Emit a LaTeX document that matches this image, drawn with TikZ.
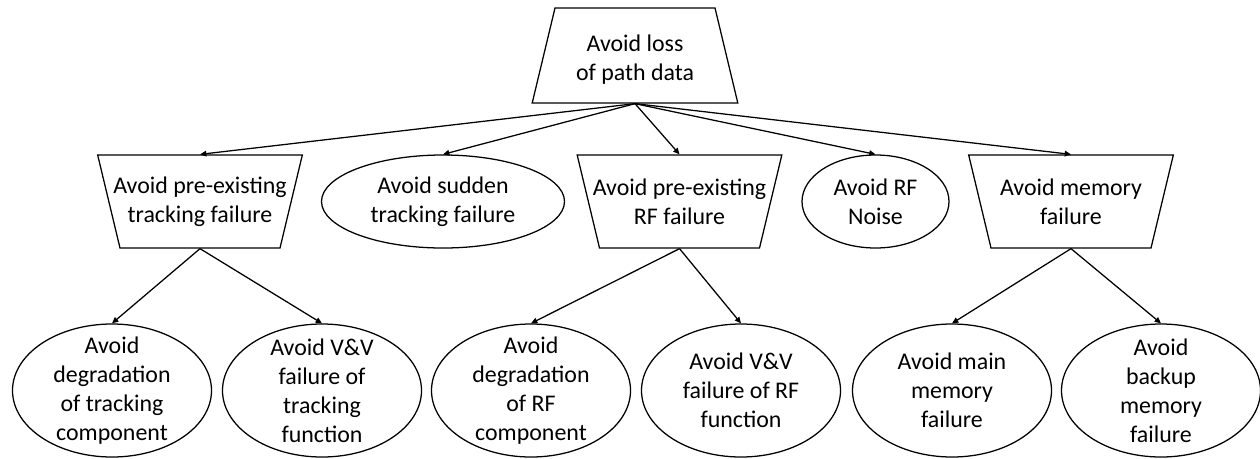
\documentclass[tikz,border=0pt]{standalone}
\usepackage{fontspec}
\setmainfont{Carlito}
\usetikzlibrary{shapes.geometric,arrows.meta}

\begin{document}
\begin{tikzpicture}[
  line width=0.9pt,
  txt/.style={font=\fontsize{17}{20.6}\selectfont, align=center},
  goal/.style={trapezium, draw, trapezium angle=76.5, inner sep=0pt,
    text width=4cm, text height=1.1875cm, text depth=1.1875cm},
  subgoal/.style={goal, shape border rotate=180, text height=1.1625cm, text depth=1.1625cm},
  oval/.style={ellipse, draw, inner sep=0pt, minimum height=2.325cm},
  leaf/.style={ellipse, draw, inner sep=0pt, minimum width=4.975cm, minimum height=3.325cm},
  link/.style={-{Triangle[length=4.5pt,width=4pt]}}
]
\useasboundingbox (0,0) rectangle (31.5,-11.45);

% top goal
\node [goal, label={[txt, yshift=-0.1cm]center:{Avoid loss\\of path data}}] (top) at (15.875,-1.3875) {};

% second row
\node [subgoal, label={[txt]center:{Avoid pre-existing\\tracking failure}}] (track) at (5.0,-5.0375) {};
\node [oval, minimum width=6.075cm, label={[txt]center:{Avoid sudden\\tracking failure}}] (sudden) at (11.075,-5.0375) {};
\node [subgoal, label={[txt]center:{Avoid pre-existing\\RF failure}}] (rf) at (16.9875,-5.0375) {};
\node [oval, minimum width=3.675cm, label={[txt]center:{Avoid RF\\Noise}}] (noise) at (21.8875,-5.0375) {};
\node [subgoal, label={[txt]center:{Avoid memory\\failure}}] (mem) at (26.775,-5.0375) {};

% third row
\node [leaf, label={[txt]center:{Avoid\\degradation\\of tracking\\component}}] (trackdeg) at (2.8,-9.7625) {};
\node [leaf, label={[txt]center:{Avoid V\&V\\failure of\\tracking\\function}}] (trackvv) at (8.05,-9.7625) {};
\node [leaf, label={[txt]center:{Avoid\\degradation\\of RF\\component}}] (rfdeg) at (13.275,-9.7625) {};
\node [leaf, label={[txt]center:{Avoid V\&V\\failure of RF\\function}}] (rfvv) at (18.525,-9.7625) {};
\node [leaf, label={[txt]center:{Avoid main\\memory\\failure}}] (mainmem) at (23.8,-9.7625) {};
\node [leaf, label={[txt]center:{Avoid\\backup\\memory\\failure}}] (backmem) at (29.025,-9.7625) {};

\foreach \n in {track,sudden,rf,noise,mem}
  \draw [link] (top.south) -- (\n.north);

\draw [link] (track.south) -- (trackdeg.north);
\draw [link] (track.south) -- (trackvv.north);
\draw [link] (rf.south) -- (rfdeg.north);
\draw [link] (rf.south) -- (rfvv.north);
\draw [link] (mem.south) -- (mainmem.north);
\draw [link] (mem.south) -- (backmem.north);

\end{tikzpicture}
\end{document}
